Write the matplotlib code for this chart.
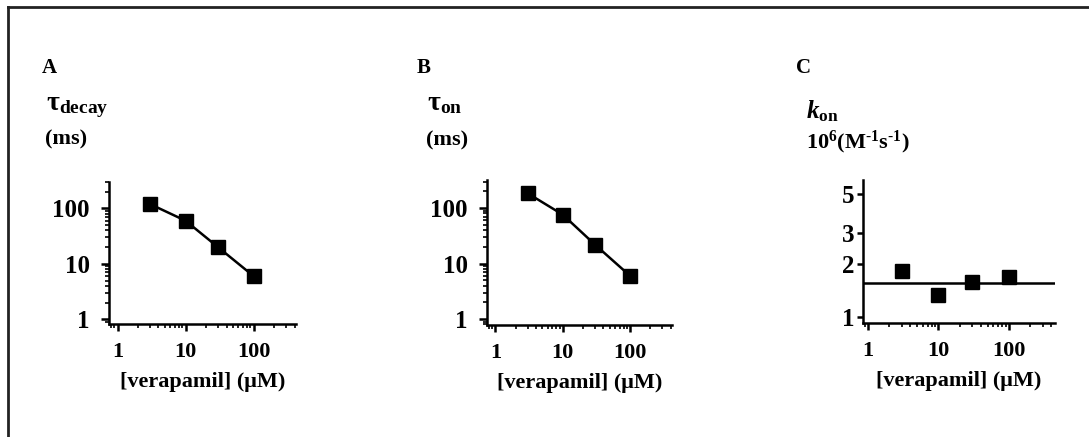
import numpy as np
import matplotlib
matplotlib.use("Agg")
import matplotlib.pyplot as plt
from matplotlib.lines import Line2D
from matplotlib.ticker import LogLocator, FixedLocator, NullFormatter, FixedFormatter

plt.rcParams['font.family'] = ['Liberation Serif', 'DejaVu Serif']
plt.rcParams['font.weight'] = 'bold'
plt.rcParams['mathtext.fontset'] = 'custom'
plt.rcParams['mathtext.rm'] = 'Liberation Serif:bold'
plt.rcParams['mathtext.it'] = 'Liberation Serif:bold:italic'
plt.rcParams['mathtext.bf'] = 'Liberation Serif:bold'

# data
verapamil = [3, 10, 30, 100]
tau_decay = [120, 60, 20, 6]
tau_on = [185, 76, 22, 6]
k_on = [1.82, 1.32, 1.58, 1.68]
k_on_mean = 1.56

x_ticks = [1, 10, 100]
x_ticklabels = ['1', '10', '100']
tau_ticks = [1, 10, 100]
tau_ticklabels = ['1', '10', '100']
k_ticks = [1, 2, 3, 5]
k_ticklabels = ['1', '2', '3', '5']

W, H = 1089, 437
fig = plt.figure(figsize=(W / 100, H / 100), dpi=100)

# frame lines around the figure (only top and left are visible)
fig.add_artist(Line2D([8 / W, 1], [1 - 7 / H, 1 - 7 / H], color='#222222', lw=2, transform=fig.transFigure))
fig.add_artist(Line2D([8 / W, 8 / W], [0, 1 - 7 / H], color='#222222', lw=2, transform=fig.transFigure))


def px_axes(left, top, right, bottom):
    return fig.add_axes([left / W, 1 - bottom / H, (right - left) / W, (bottom - top) / H])


def style(ax, xlim, ylim):
    ax.set_xscale('log')
    ax.set_yscale('log')
    ax.set_xlim(*xlim)
    ax.set_ylim(*ylim)
    for s in ['top', 'right']:
        ax.spines[s].set_visible(False)
    for s in ['left', 'bottom']:
        ax.spines[s].set_linewidth(1.8)
    ax.xaxis.set_major_locator(FixedLocator(x_ticks))
    ax.xaxis.set_major_formatter(FixedFormatter(x_ticklabels))
    ax.xaxis.set_minor_locator(LogLocator(base=10, subs=np.arange(2, 10)))
    ax.xaxis.set_minor_formatter(NullFormatter())
    ax.tick_params(axis='x', which='major', length=5, width=1.8, labelsize=16, pad=8)
    ax.tick_params(axis='y', which='major', length=6, width=1.8, labelsize=18, pad=8)
    ax.tick_params(axis='both', which='minor', length=3, width=1.2)
    ax.set_xlabel('[verapamil] (μM)', fontsize=16, fontweight='bold', labelpad=7)


# panel A
axA = px_axes(109, 182, 296, 324)
style(axA, (0.75, 420), (0.82, 300))
axA.yaxis.set_major_locator(FixedLocator(tau_ticks))
axA.yaxis.set_major_formatter(FixedFormatter(tau_ticklabels))
axA.yaxis.set_minor_locator(LogLocator(base=10, subs=np.arange(2, 10)))
axA.yaxis.set_minor_formatter(NullFormatter())
axA.plot(verapamil, tau_decay, color='black', lw=1.8, marker='s', markersize=10)

# panel B
axB = px_axes(487, 180, 672, 325)
style(axB, (0.75, 420), (0.78, 320))
axB.yaxis.set_major_locator(FixedLocator(tau_ticks))
axB.yaxis.set_major_formatter(FixedFormatter(tau_ticklabels))
axB.yaxis.set_minor_locator(LogLocator(base=10, subs=np.arange(2, 10)))
axB.yaxis.set_minor_formatter(NullFormatter())
axB.plot(verapamil, tau_on, color='black', lw=1.8, marker='s', markersize=10)

# panel C
axC = px_axes(863, 180, 1055, 323)
style(axC, (0.85, 450), (0.92, 6))
axC.yaxis.set_major_locator(FixedLocator(k_ticks))
axC.yaxis.set_major_formatter(FixedFormatter(k_ticklabels))
axC.yaxis.set_minor_locator(FixedLocator([]))
axC.tick_params(axis='y', which='major', length=4, pad=2)
axC.plot(verapamil, k_on, color='black', lw=0, marker='s', markersize=10)
axC.axhline(k_on_mean, color='black', lw=1.8)


# panel letters and y labels
def ftext(x, y, s, size, va='center'):
    fig.text(x / W, 1 - y / H, s, fontsize=size, fontweight='bold', ha='left', va=va)


ftext(42, 68, 'A', 15)
ftext(46, 110, r'$\mathrm{\tau}_{\mathrm{decay}}$', 20, va='baseline')
ftext(45, 139, '(ms)', 16)

ftext(417, 68, 'B', 15)
ftext(427, 110, r'$\mathrm{\tau}_{\mathrm{on}}$', 20, va='baseline')
ftext(426, 140, '(ms)', 16)

ftext(796, 68, 'C', 15)
ftext(806, 118, r'$k_{\mathrm{on}}$', 18, va='baseline')
ftext(806, 148, '$\\mathrm{10^{6}(M^{\u20101}s^{\u20101})}$', 16, va='baseline')

fig.savefig('out.png', dpi=100)
